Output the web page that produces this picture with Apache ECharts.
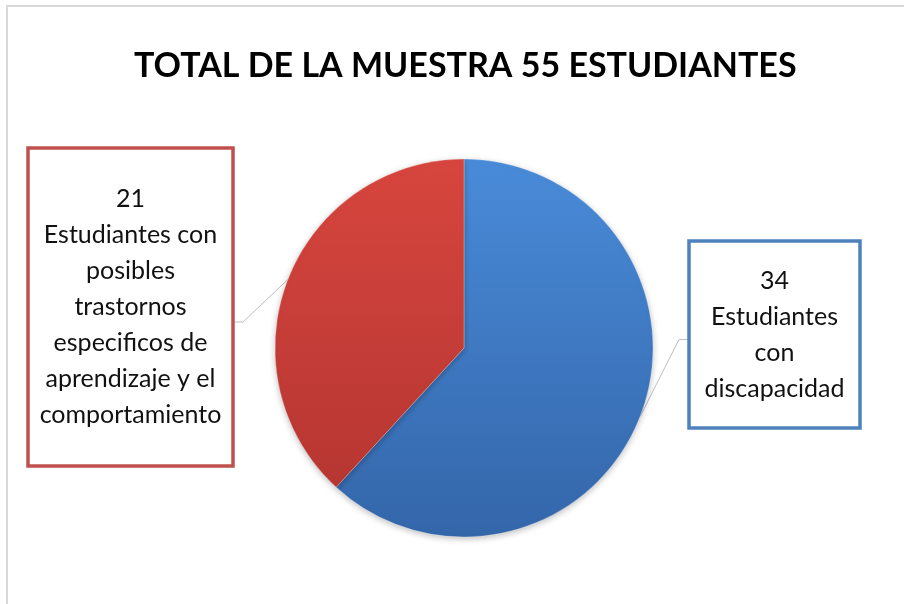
<!DOCTYPE html>
<html>
<head>
<meta charset="utf-8">
<script src="https://cdn.jsdelivr.net/npm/echarts@6/dist/echarts.min.js"></script>
<style>
  html, body { margin: 0; padding: 0; background: #fff; }
  #chart { width: 904px; height: 604px; }
</style>
</head>
<body>
<div id="chart"></div>
<script>
  // datos de la muestra
  var titulo = 'TOTAL DE LA MUESTRA 55 ESTUDIANTES';
  var categorias = [
    'Estudiantes\ncon\ndiscapacidad',
    'Estudiantes con\nposibles\ntrastornos\nespecificos de\naprendizaje y el\ncomportamiento'
  ];
  var valores = [34, 21];

  var colores = [
    ['#4a8cda', '#3365a8'],
    ['#d8463f', '#b1332f']
  ];
  var bordes = ['#4f81bd', '#c0504d'];
  // cajas de etiqueta: left, top, ancho, alto
  var cajas = [
    { x: 689, y: 241, w: 171, h: 187 },
    { x: 28, y: 148, w: 205, h: 318 }
  ];
  var LINE_H = 36;
  var BW = 3.5;

  var chart = echarts.init(document.getElementById('chart'));

  var data = valores.map(function (v, i) {
    var c = cajas[i];
    var lines = ('' + v + '\n' + categorias[i]).split('\n').length;
    return {
      value: v,
      name: categorias[i],
      itemStyle: {
        color: new echarts.graphic.LinearGradient(0, 148, 0, 548, [
          { offset: 0, color: colores[i][0] },
          { offset: 1, color: colores[i][1] }
        ], true)
      },
      label: {
        borderColor: bordes[i],
        width: c.w - BW,
        padding: [(c.h - BW - lines * LINE_H) / 2, 0]
      }
    };
  });

  chart.setOption({
    backgroundColor: '#fff',
    title: {
      text: titulo,
      left: 129,
      top: 44,
      textStyle: {
        fontFamily: 'Lato',
        fontWeight: 'bold',
        fontSize: 34,
        color: '#000'
      }
    },
    graphic: [{
      type: 'polyline',
      shape: { points: [[7, 604], [7, 6], [904, 6]] },
      style: { stroke: '#d9d9d9', lineWidth: 2, fill: null },
      silent: true
    }],
    series: [{
      type: 'pie',
      center: [464, 348],
      radius: 189,
      startAngle: 90,
      clockwise: true,
      animation: false,
      itemStyle: {
        borderColor: 'rgba(255,255,255,0.25)',
        borderWidth: 1,
        shadowBlur: 6,
        shadowColor: 'rgba(0,0,0,0.25)',
        shadowOffsetY: 2
      },
      label: {
        show: true,
        position: 'outside',
        formatter: '{c}\n{b}',
        fontFamily: 'Lato',
        fontSize: 25,
        color: '#111',
        lineHeight: LINE_H,
        align: 'center',
        backgroundColor: '#fff',
        borderWidth: BW
      },
      labelLine: {
        show: true,
        length: 10,
        length2: 10,
        lineStyle: { color: '#bfbfbf', width: 1 }
      },
      labelLayout: function (params) {
        var c = cajas[params.dataIndex];
        var p0 = params.labelLinePoints[0];
        var left = p0[0] < 464;
        var ex = left ? c.x + c.w : c.x;
        var ey = c.y + c.h / 2 + (left ? 15 : 5);
        var mx = left ? ex + 10 : ex - 10;
        return {
          x: c.x + c.w / 2,
          y: c.y + BW / 2,
          align: 'center',
          verticalAlign: 'top',
          labelLinePoints: [p0, [mx, ey], [ex, ey]]
        };
      },
      data: data
    }]
  });
</script>
</body>
</html>
